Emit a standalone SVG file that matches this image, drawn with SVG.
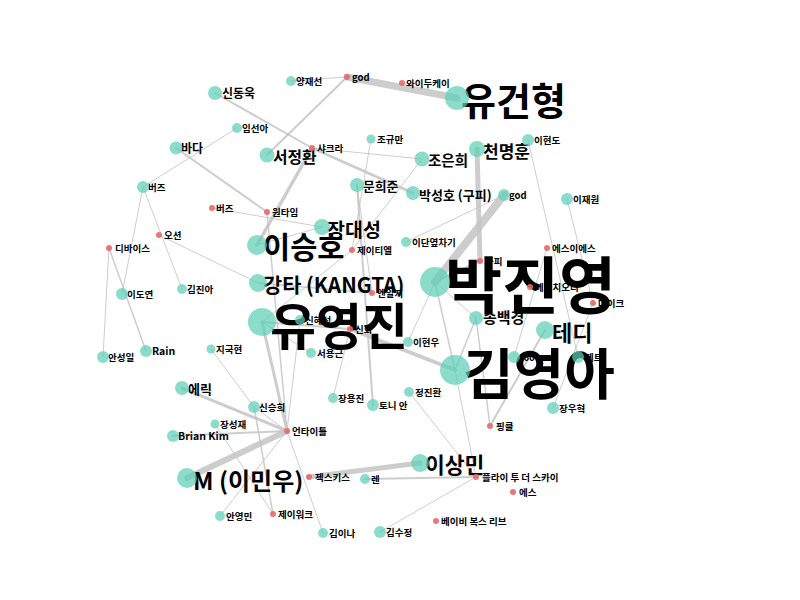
<svg xmlns="http://www.w3.org/2000/svg" width="800" height="600" viewBox="0 0 800 600">
<style>
.e{stroke:#c4c4c4;stroke-linecap:round;fill:none;stroke-opacity:.85}
.t{fill:#5fcfb8;fill-opacity:.72}
.r{fill:#e8696b;fill-opacity:.9}
text{font-family:'Noto Sans CJK KR','Noto Sans',sans-serif;font-weight:700;fill:#000;font-size:9.5px}
</style>
<rect width="800" height="600" fill="#fff"/>
<g id="edges">
<line class="e" x1="291" y1="81" x2="347" y2="77" stroke-width="1"/>
<line class="e" x1="347" y1="77" x2="457" y2="98" stroke-width="7"/>
<line class="e" x1="347" y1="77" x2="267" y2="155" stroke-width="2"/>
<line class="e" x1="215" y1="93" x2="312" y2="148" stroke-width="2"/>
<line class="e" x1="312" y1="148" x2="413" y2="193" stroke-width="3"/>
<line class="e" x1="312" y1="148" x2="422" y2="159" stroke-width="1"/>
<line class="e" x1="312" y1="148" x2="257" y2="245" stroke-width="3.5"/>
<line class="e" x1="143" y1="187" x2="237" y2="128" stroke-width="1"/>
<line class="e" x1="176" y1="148" x2="267" y2="212" stroke-width="2"/>
<line class="e" x1="143" y1="187" x2="122" y2="294" stroke-width="1"/>
<line class="e" x1="143" y1="187" x2="182" y2="289" stroke-width="1"/>
<line class="e" x1="109" y1="248" x2="103" y2="357" stroke-width="1"/>
<line class="e" x1="109" y1="248" x2="146" y2="351" stroke-width="1.5"/>
<line class="e" x1="159" y1="235" x2="258" y2="283" stroke-width="1"/>
<line class="e" x1="212" y1="208" x2="322" y2="227" stroke-width="1"/>
<line class="e" x1="371" y1="139" x2="352" y2="250" stroke-width="1"/>
<line class="e" x1="422" y1="159" x2="352" y2="250" stroke-width="1"/>
<line class="e" x1="477" y1="149" x2="480" y2="261" stroke-width="5"/>
<line class="e" x1="504" y1="195" x2="435" y2="282" stroke-width="8"/>
<line class="e" x1="504" y1="195" x2="406" y2="242" stroke-width="1"/>
<line class="e" x1="528" y1="140" x2="578" y2="357" stroke-width="1"/>
<line class="e" x1="567" y1="199" x2="593" y2="303" stroke-width="1"/>
<line class="e" x1="593" y1="303" x2="553" y2="408" stroke-width="1"/>
<line class="e" x1="547" y1="248" x2="514" y2="357" stroke-width="1"/>
<line class="e" x1="357" y1="185" x2="373" y2="405" stroke-width="2"/>
<line class="e" x1="357" y1="185" x2="372" y2="293" stroke-width="1"/>
<line class="e" x1="258" y1="283" x2="372" y2="293" stroke-width="1.5"/>
<line class="e" x1="352" y1="250" x2="262" y2="322" stroke-width="1"/>
<line class="e" x1="257" y1="245" x2="322" y2="227" stroke-width="1"/>
<line class="e" x1="267" y1="212" x2="287" y2="431" stroke-width="1.5"/>
<line class="e" x1="262" y1="322" x2="350" y2="329" stroke-width="2"/>
<line class="e" x1="350" y1="329" x2="455" y2="370" stroke-width="4"/>
<line class="e" x1="262" y1="322" x2="287" y2="431" stroke-width="3"/>
<line class="e" x1="182" y1="388" x2="287" y2="431" stroke-width="3"/>
<line class="e" x1="187" y1="478" x2="287" y2="431" stroke-width="6"/>
<line class="e" x1="173" y1="436" x2="287" y2="431" stroke-width="2"/>
<line class="e" x1="211" y1="349" x2="254" y2="407" stroke-width="1"/>
<line class="e" x1="254" y1="407" x2="273" y2="514" stroke-width="1.5"/>
<line class="e" x1="254" y1="407" x2="287" y2="431" stroke-width="1"/>
<line class="e" x1="215" y1="424" x2="273" y2="514" stroke-width="1"/>
<line class="e" x1="287" y1="431" x2="323" y2="533" stroke-width="1"/>
<line class="e" x1="287" y1="431" x2="220" y2="516" stroke-width="1"/>
<line class="e" x1="300" y1="320" x2="287" y2="431" stroke-width="1"/>
<line class="e" x1="333" y1="398" x2="350" y2="329" stroke-width="1"/>
<line class="e" x1="309" y1="477" x2="420" y2="463" stroke-width="5"/>
<line class="e" x1="365" y1="479" x2="476" y2="477" stroke-width="2"/>
<line class="e" x1="380" y1="532" x2="476" y2="477" stroke-width="1"/>
<line class="e" x1="409" y1="392" x2="476" y2="477" stroke-width="1"/>
<line class="e" x1="455" y1="370" x2="476" y2="477" stroke-width="1"/>
<line class="e" x1="476" y1="318" x2="490" y2="426" stroke-width="1.5"/>
<line class="e" x1="545" y1="330" x2="490" y2="426" stroke-width="2"/>
<line class="e" x1="435" y1="282" x2="455" y2="370" stroke-width="1.5"/>
<line class="e" x1="435" y1="282" x2="476" y2="318" stroke-width="1"/>
<line class="e" x1="435" y1="282" x2="408" y2="342" stroke-width="1"/>
<line class="e" x1="476" y1="318" x2="455" y2="370" stroke-width="1.5"/>
<line class="e" x1="480" y1="261" x2="435" y2="282" stroke-width="2"/>
<line class="e" x1="311" y1="353" x2="262" y2="322" stroke-width="1"/>
</g>
<g id="n-pjy"><text x="445" y="309" style="font-size:62px">박진영</text><circle class="t" cx="435" cy="282" r="15"/></g>
<g id="n-kya"><text x="463" y="394" style="font-size:55px">김영아</text><circle class="t" cx="455" cy="370" r="15"/></g>
<g id="n-yyj"><text x="270" y="344.5" style="font-size:50px">유영진</text><circle class="t" cx="262" cy="322" r="14"/></g>
<g id="n-ygh"><text x="461" y="114.5" style="font-size:38px">유건형</text><circle class="t" cx="457" cy="98" r="12"/></g>
<g id="n-ish"><text x="263" y="258" style="font-size:29.5px">이승호</text><circle class="t" cx="257" cy="245" r="10"/></g>
<g id="n-kt"><text x="263" y="292.5" style="font-size:20.8px">강타 (KANGTA)</text><circle class="t" cx="258" cy="283" r="9"/></g>
<g id="n-jds"><text x="327" y="237" style="font-size:19.5px">장대성</text><circle class="t" cx="322" cy="227" r="8"/></g>
<g id="n-teddy"><text x="552" y="340.5" style="font-size:22px">테디</text><circle class="t" cx="545" cy="330" r="9"/></g>
<g id="n-lsm"><text x="425" y="472.5" style="font-size:21.5px">이상민</text><circle class="t" cx="420" cy="463" r="9"/></g>
<g id="n-m"><text x="193" y="490" style="font-size:24px">M (이민우)</text><circle class="t" cx="187" cy="478" r="10"/></g>
<g id="n-cmh"><text x="483" y="158" style="font-size:17px">천명훈</text><circle class="t" cx="477" cy="149" r="8"/></g>
<g id="n-sdw"><text x="222" y="98" style="font-size:12px">신동욱</text><circle class="t" cx="215" cy="93" r="7"/></g>
<g id="n-yjs"><text x="296" y="85">양재선</text><circle class="t" cx="291" cy="81" r="5"/></g>
<g id="n-godr"><text x="352" y="81">god</text><circle class="r" cx="347" cy="77" r="3"/></g>
<g id="n-wdk"><text x="406" y="87">와이두케이</text><circle class="r" cx="402" cy="83" r="3"/></g>
<g id="n-isa"><text x="242" y="132">임선아</text><circle class="t" cx="237" cy="128" r="5"/></g>
<g id="n-bada"><text x="181" y="153" style="font-size:12px">바다</text><circle class="t" cx="176" cy="148" r="6.5"/></g>
<g id="n-sjh"><text x="273" y="163" style="font-size:15.8px">서정환</text><circle class="t" cx="267" cy="155" r="7.5"/></g>
<g id="n-shk"><text x="317" y="152">샤크라</text><circle class="r" cx="312" cy="148" r="3"/></g>
<g id="n-jgm"><text x="377" y="143">조규만</text><circle class="t" cx="371" cy="139" r="4.5"/></g>
<g id="n-jeh"><text x="428" y="166.4" style="font-size:14.5px">조은희</text><circle class="t" cx="422" cy="159" r="7.5"/></g>
<g id="n-ihd"><text x="534" y="144">이현도</text><circle class="t" cx="528" cy="140" r="6"/></g>
<g id="n-bzt"><text x="148" y="191">버즈</text><circle class="t" cx="143" cy="187" r="6"/></g>
<g id="n-bzr"><text x="216" y="212">버즈</text><circle class="r" cx="212" cy="208" r="3"/></g>
<g id="n-oti"><text x="272" y="216">원타임</text><circle class="r" cx="267" cy="212" r="3"/></g>
<g id="n-mhj"><text x="363" y="191" style="font-size:12.8px">문희준</text><circle class="t" cx="357" cy="185" r="7"/></g>
<g id="n-psh"><text x="419" y="200" style="font-size:13px">박성호 (구피)</text><circle class="t" cx="413" cy="193" r="7"/></g>
<g id="n-godt"><text x="509" y="199">god</text><circle class="t" cx="504" cy="195" r="6"/></g>
<g id="n-ijw"><text x="573" y="203">이재원</text><circle class="t" cx="567" cy="199" r="6"/></g>
<g id="n-ocean"><text x="164" y="239">오션</text><circle class="r" cx="159" cy="235" r="3"/></g>
<g id="n-dvc"><text x="115" y="252">디바이스</text><circle class="r" cx="109" cy="248" r="3"/></g>
<g id="n-jtl"><text x="357" y="254">제이티엘</text><circle class="r" cx="352" cy="250" r="3"/></g>
<g id="n-idy"><text x="412" y="246">이단옆차기</text><circle class="t" cx="406" cy="242" r="5"/></g>
<g id="n-ses"><text x="552" y="252">에스이에스</text><circle class="r" cx="547" cy="248" r="3"/></g>
<g id="n-gupi"><text x="485" y="265">구피</text><circle class="r" cx="480" cy="261" r="3"/></g>
<g id="n-hot"><text x="535" y="291">에이치오티</text><circle class="r" cx="530" cy="287" r="3"/></g>
<g id="n-nrg"><text x="377" y="297">엔알지</text><circle class="r" cx="372" cy="293" r="3"/></g>
<g id="n-kja"><text x="187" y="293">김진아</text><circle class="t" cx="182" cy="289" r="5"/></g>
<g id="n-idyeon"><text x="127" y="298">이도연</text><circle class="t" cx="122" cy="294" r="6"/></g>
<g id="n-mike"><text x="598" y="307">마이크</text><circle class="r" cx="593" cy="303" r="3"/></g>
<g id="n-shs"><text x="305" y="324">신혜성</text><circle class="t" cx="300" cy="320" r="5"/></g>
<g id="n-shin"><text x="355" y="333">신화</text><circle class="r" cx="350" cy="329" r="3"/></g>
<g id="n-sbk"><text x="483" y="323" style="font-size:15px">송백경</text><circle class="t" cx="476" cy="318" r="7"/></g>
<g id="n-ihw"><text x="413" y="346">이현우</text><circle class="t" cx="408" cy="342" r="5"/></g>
<g id="n-syg"><text x="317" y="357">서용근</text><circle class="t" cx="311" cy="353" r="5"/></g>
<g id="n-asi"><text x="108" y="361">안성일</text><circle class="t" cx="103" cy="357" r="6"/></g>
<g id="n-rain"><text x="152" y="355" style="font-size:10.5px">Rain</text><circle class="t" cx="146" cy="351" r="6"/></g>
<g id="n-jgh"><text x="216" y="353">지국현</text><circle class="t" cx="211" cy="349" r="4.5"/></g>
<g id="n-joo"><text x="519" y="360.5" style="font-size:8.5px">Joo</text><circle class="t" cx="514" cy="357" r="6"/></g>
<g id="n-zt"><text x="585" y="361">제트</text><circle class="t" cx="578" cy="357" r="6"/></g>
<g id="n-eric"><text x="188" y="393.7" style="font-size:13px">에릭</text><circle class="t" cx="182" cy="388" r="7"/></g>
<g id="n-jjh"><text x="415" y="396">정진환</text><circle class="t" cx="409" cy="392" r="5"/></g>
<g id="n-jyj"><text x="338" y="402">장용진</text><circle class="t" cx="333" cy="398" r="5"/></g>
<g id="n-tony"><text x="379" y="409">토니 안</text><circle class="t" cx="373" cy="405" r="6"/></g>
<g id="n-ssh"><text x="259" y="411">신승희</text><circle class="t" cx="254" cy="407" r="6"/></g>
<g id="n-jwh"><text x="559" y="412">장우혁</text><circle class="t" cx="553" cy="408" r="6"/></g>
<g id="n-jsj"><text x="220" y="428">장성재</text><circle class="t" cx="215" cy="424" r="4.5"/></g>
<g id="n-pk"><text x="496" y="430">핑클</text><circle class="r" cx="490" cy="426" r="3"/></g>
<g id="n-untitle"><text x="292" y="435">언타이틀</text><circle class="r" cx="287" cy="431" r="3"/></g>
<g id="n-brian"><text x="178" y="440" style="font-size:10.5px">Brian Kim</text><circle class="t" cx="173" cy="436" r="6"/></g>
<g id="n-sechs"><text x="315" y="481">젝스키스</text><circle class="r" cx="309" cy="477" r="3"/></g>
<g id="n-ren"><text x="371" y="483">렌</text><circle class="t" cx="365" cy="479" r="5"/></g>
<g id="n-fly"><text x="482" y="481">플라이 투 더 스카이</text><circle class="r" cx="476" cy="477" r="3"/></g>
<g id="n-es"><text x="519" y="496">에스</text><circle class="r" cx="513" cy="492" r="3"/></g>
<g id="n-ayom"><text x="226" y="520">안영민</text><circle class="t" cx="220" cy="516" r="5"/></g>
<g id="n-jwalk"><text x="278" y="518">제이워크</text><circle class="r" cx="273" cy="514" r="3"/></g>
<g id="n-bbv"><text x="441" y="525">베이비 복스 리브</text><circle class="r" cx="436" cy="521" r="3"/></g>
<g id="n-kin"><text x="329" y="537">김이나</text><circle class="t" cx="323" cy="533" r="5"/></g>
<g id="n-ksj"><text x="386" y="536">김수정</text><circle class="t" cx="380" cy="532" r="6"/></g>
</svg>
